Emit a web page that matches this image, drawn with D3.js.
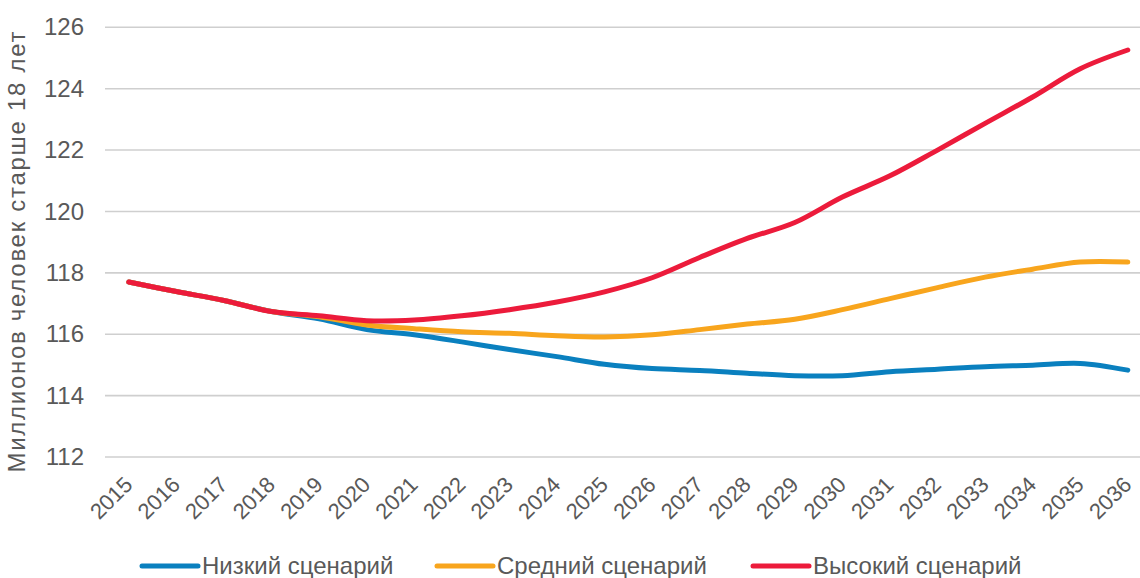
<!DOCTYPE html>
<html>
<head>
<meta charset="utf-8">
<script src="https://cdn.jsdelivr.net/npm/d3@7"></script>
<style>
  html, body { margin: 0; padding: 0; background: #fff; }
  svg { display: block; }
  text { font-family: "Liberation Sans", Arial, sans-serif; fill: #595959; }
</style>
</head>
<body>
<svg id="chart" width="1140" height="578"></svg>
<script>
// Adult population of Russia (18+), millions, by scenario
const years = d3.range(2015, 2037).map(String);
const lowScenario  = [117.7, 117.39, 117.1, 116.74, 116.5, 116.15, 115.98, 115.75, 115.5, 115.27, 115.02, 114.88, 114.82, 114.73, 114.65, 114.65, 114.78, 114.86, 114.94, 114.99, 115.05, 114.83];
const midScenario  = [117.7, 117.39, 117.1, 116.74, 116.57, 116.3, 116.18, 116.08, 116.03, 115.95, 115.91, 115.98, 116.15, 116.33, 116.49, 116.8, 117.16, 117.52, 117.86, 118.12, 118.35, 118.35];
const highScenario = [117.7, 117.39, 117.1, 116.74, 116.6, 116.44, 116.46, 116.6, 116.8, 117.05, 117.38, 117.84, 118.5, 119.12, 119.64, 120.47, 121.16, 122.0, 122.87, 123.73, 124.65, 125.26];
const yTicks = [112, 114, 116, 118, 120, 122, 124, 126];
const seriesNames = ["Низкий сценарий", "Средний сценарий", "Высокий сценарий"];
const seriesColors = ["#0a80bf", "#f8a51d", "#ec1b3b"];
const yTitle = "Миллионов человек старше 18 лет";

const series = [lowScenario, midScenario, highScenario].map((vals, i) => ({
  name: seriesNames[i], color: seriesColors[i],
  points: vals.map((v, j) => ({ year: years[j], value: v }))
}));

const svg = d3.select("#chart");

const x = d3.scaleBand().domain(years).range([105, 1151.6]).padding(0);
const y = d3.scaleLinear().domain([112, 126]).range([457, 27.3]);
const cx = d => x(d) + x.bandwidth() / 2;

// horizontal gridlines
svg.append("g")
  .selectAll("line")
  .data(yTicks)
  .join("line")
  .attr("x1", 105).attr("x2", 1151.6)
  .attr("y1", d => y(d)).attr("y2", d => y(d))
  .attr("stroke", "#cfcfcf")
  .attr("stroke-width", 1.6);

// y axis labels
const yAxis = svg.append("g")
  .attr("transform", "translate(84,0)")
  .call(d3.axisLeft(y).tickValues(yTicks).tickSize(0).tickPadding(0));
yAxis.select(".domain").remove();
yAxis.selectAll("text")
  .style("font-family", "'Liberation Sans', Arial, sans-serif")
  .style("font-size", "24px")
  .attr("fill", "#595959");

// x axis labels, rotated
const xAxis = svg.append("g")
  .attr("transform", "translate(0,470)")
  .call(d3.axisBottom(x).tickSize(0).tickPadding(0));
xAxis.select(".domain").remove();
xAxis.selectAll("text")
  .style("font-family", "'Liberation Sans', Arial, sans-serif")
  .style("font-size", "22px")
  .attr("fill", "#595959")
  .attr("text-anchor", "end")
  .attr("dy", null)
  .attr("y", 0)
  .attr("transform", "translate(5,16) rotate(-45)");

// y axis title
svg.append("text")
  .attr("transform", "translate(25,252) rotate(-90)")
  .attr("text-anchor", "middle")
  .attr("textLength", 441)
  .attr("lengthAdjust", "spacing")
  .style("font-size", "24px")
  .text(yTitle);

// scenario lines
const line = d3.line()
  .x(d => cx(d.year))
  .y(d => y(d.value))
  .curve(d3.curveCatmullRom.alpha(0.5));

svg.append("g")
  .selectAll("path")
  .data(series)
  .join("path")
  .attr("d", d => line(d.points))
  .attr("fill", "none")
  .attr("stroke", d => d.color)
  .attr("stroke-width", 5)
  .attr("stroke-linecap", "round")
  .attr("stroke-linejoin", "round");

// legend
const legendX = [142, 437, 753];
const legend = svg.append("g")
  .selectAll("g")
  .data(series)
  .join("g")
  .attr("transform", (d, i) => `translate(${legendX[i]},566)`);
legend.append("line")
  .attr("x1", 0).attr("x2", 56)
  .attr("stroke", d => d.color)
  .attr("stroke-width", 5)
  .attr("stroke-linecap", "round");
legend.append("text")
  .attr("x", 60)
  .attr("y", 8)
  .style("font-size", "24px")
  .text(d => d.name);
</script>
</body>
</html>
